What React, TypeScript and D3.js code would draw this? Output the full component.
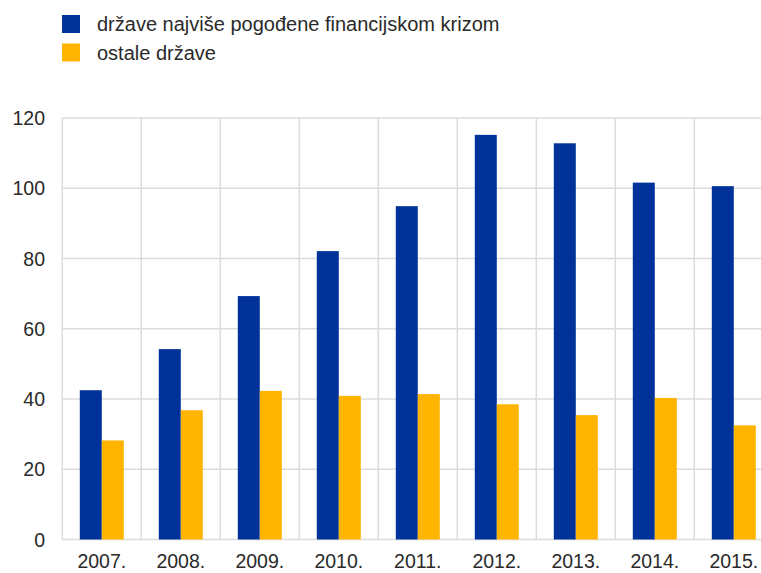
import React from "react";
import * as d3 from "d3";

const years = ["2007.", "2008.", "2009.", "2010.", "2011.", "2012.", "2013.", "2014.", "2015."];
const crisisValues = [42.5, 54.2, 69.3, 82.1, 94.9, 115.2, 112.8, 101.6, 100.6];
const otherValues = [28.2, 36.8, 42.3, 40.9, 41.4, 38.5, 35.4, 40.3, 32.5];
const yTicks = [0, 20, 40, 60, 80, 100, 120];
const seriesNames = ["države najviše pogođene financijskom krizom", "ostale države"];
const seriesColors = ["#003299", "#ffb400"];

const W = 761;
const H = 573;
const left = 62.3;
const step = 79;
const top = 118;
const bottom = 539.5;
const font = "'Liberation Sans', Arial, sans-serif";
const gridColor = "#dcdcdc";
const textColor = "#2a2a2a";

export default function App() {
  const x = d3.scaleBand<string>().domain(years).range([left, left + step * years.length]).paddingInner(0).paddingOuter(0);
  const x1 = d3.scaleBand<string>().domain(["a", "b"]).range([17.5, 61.5]).padding(0);
  const y = d3.scaleLinear().domain([0, 120]).range([bottom, top]);
  const series = [crisisValues, otherValues];
  const keys = ["a", "b"];
  const boundaries = years.map((yr) => x(yr) as number).concat([x.range()[1]]);

  return (
    <svg width={W} height={H} style={{ position: "absolute", left: 0, top: 0, background: "#fff" }}>
      {/* legend */}
      {seriesNames.map((name, i) => (
        <g key={name}>
          <rect x={62} y={15 + i * 28.5} width={18} height={18} fill={seriesColors[i]} />
          <text x={97} y={31 + i * 29} fontFamily={font} fontSize={20} fill={textColor}>
            {name}
          </text>
        </g>
      ))}
      {/* horizontal grid */}
      {yTicks.map((t) => (
        <line key={"h" + t} x1={left} x2={W} y1={y(t)} y2={y(t)} stroke={gridColor} strokeWidth={1.5} />
      ))}
      {/* vertical grid */}
      {boundaries.map((b, i) => (
        <line key={"v" + i} x1={b} x2={b} y1={y(120)} y2={y(0)} stroke={gridColor} strokeWidth={1.5} />
      ))}
      {/* bars */}
      {series.map((vals, si) =>
        vals.map((v, i) => (
          <rect
            key={si + "-" + i}
            x={(x(years[i]) as number) + (x1(keys[si]) as number)}
            y={y(v)}
            width={x1.bandwidth()}
            height={y(0) - y(v)}
            fill={seriesColors[si]}
          />
        ))
      )}
      {/* y tick labels */}
      {yTicks.map((t) => (
        <text key={"yt" + t} x={45} y={y(t)} dy="0.36em" textAnchor="end" fontFamily={font} fontSize={19.5} fill={textColor}>
          {t}
        </text>
      ))}
      {/* x tick labels */}
      {years.map((yr) => (
        <text key={"xt" + yr} x={(x(yr) as number) + x.bandwidth() / 2} y={568} textAnchor="middle" fontFamily={font} fontSize={19.5} fill={textColor}>
          {yr}
        </text>
      ))}
    </svg>
  );
}
